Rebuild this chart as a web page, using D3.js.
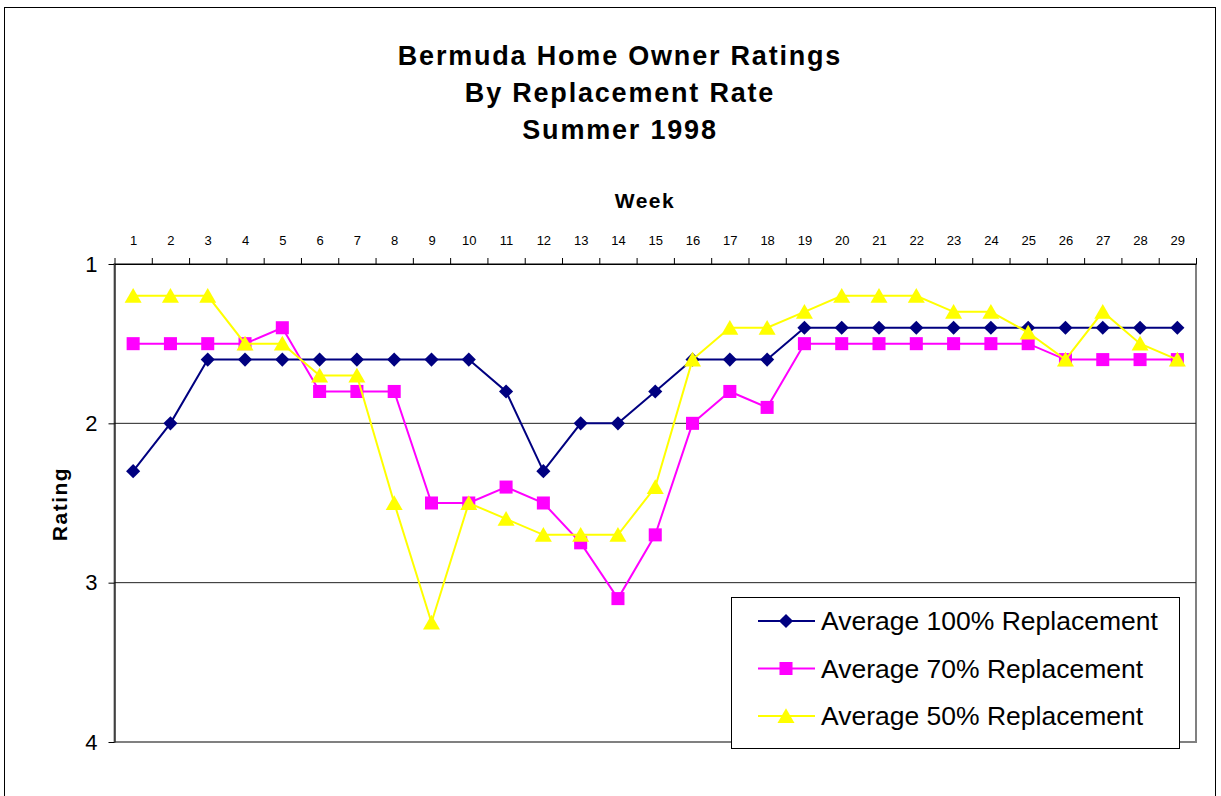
<!DOCTYPE html>
<head>
  <meta charset="utf-8">
  <script src="https://d3js.org/d3.v7.min.js"></script>
  <style>
    body { margin:0; background:#fff; }
    text { font-family: "Liberation Sans", Arial, sans-serif; }
  </style>
</head>
<body>
<script>
  // weeks 1..29
  var weeks = d3.range(1, 30);
  var seriesNames = ["Average 100% Replacement", "Average 70% Replacement", "Average 50% Replacement"];
  var avg100 = [2.3,2.0,1.6,1.6,1.6,1.6,1.6,1.6,1.6,1.6,1.8,2.3,2.0,2.0,1.8,1.6,1.6,1.6,1.4,1.4,1.4,1.4,1.4,1.4,1.4,1.4,1.4,1.4,1.4];
  var avg70  = [1.5,1.5,1.5,1.5,1.4,1.8,1.8,1.8,2.5,2.5,2.4,2.5,2.75,3.1,2.7,2.0,1.8,1.9,1.5,1.5,1.5,1.5,1.5,1.5,1.5,1.6,1.6,1.6,1.6];
  var avg50  = [1.2,1.2,1.2,1.5,1.5,1.7,1.7,2.5,3.25,2.5,2.6,2.7,2.7,2.7,2.4,1.6,1.4,1.4,1.3,1.2,1.2,1.2,1.3,1.3,1.43,1.6,1.3,1.5,1.6];
  var ratingTicks = [1, 2, 3, 4];
  var titleLines = ["Bermuda Home Owner Ratings", "By Replacement Rate", "Summer 1998"];

  var colors = ["#000080", "#ff00ff", "#ffff00"];
  var symbols = [d3.symbolSquare, d3.symbolSquare, d3.symbolTriangle];
  var symSize = [100, 170, 125];
  var symRot = [45, 0, 0];
  var symDy = [0, 0, 2];

  var width = 1221, height = 796;
  var plot = {left: 114.5, right: 1196, top: 264, bottom: 742};

  var svg = d3.select("body").append("svg")
      .attr("width", width)
      .attr("height", height);

  // outer chart border
  svg.append("rect")
      .attr("x", 4.5).attr("y", 7.5)
      .attr("width", 1211).attr("height", 820)
      .attr("fill", "none").attr("stroke", "#000").attr("stroke-width", 1);

  var x = d3.scaleLinear().domain([0.5, 29.5]).range([plot.left, plot.right]);
  var y = d3.scaleLinear().domain([1, 4]).range([plot.top, plot.bottom]);

  // plot area frame (grey)
  svg.append("rect")
      .attr("x", plot.left).attr("y", plot.top)
      .attr("width", plot.right - plot.left).attr("height", plot.bottom - plot.top)
      .attr("fill", "#fff").attr("stroke", "#808080").attr("stroke-width", 2);

  // gridlines
  svg.append("g").selectAll("line").data([2, 3]).enter().append("line")
      .attr("x1", plot.left).attr("x2", plot.right)
      .attr("y1", function(d){ return y(d); }).attr("y2", function(d){ return y(d); })
      .attr("stroke", "#222").attr("stroke-width", 1);

  // top x axis: tick marks between categories
  svg.append("g")
      .attr("transform", "translate(0," + plot.top + ")")
      .call(d3.axisTop(x).tickValues(d3.range(0.5, 30, 1)).tickFormat("").tickSize(6).tickSizeOuter(0))
      .call(function(g){ g.selectAll("line,path").attr("stroke", "#000"); });

  // week labels
  svg.append("g")
      .attr("transform", "translate(0," + plot.top + ")")
      .call(d3.axisTop(x).tickValues(weeks).tickFormat(d3.format("d")).tickSize(0).tickPadding(19))
      .call(function(g){
        g.select(".domain").remove();
        g.selectAll("text").attr("font-size", 13).attr("fill", "#000")
          .style("font-family", "'Liberation Sans', Arial, sans-serif");
      });

  // left y axis
  svg.append("g")
      .attr("transform", "translate(" + plot.left + ",0)")
      .call(d3.axisLeft(y).tickValues(ratingTicks).tickFormat(d3.format("d")).tickSize(6).tickSizeOuter(0).tickPadding(11))
      .call(function(g){
        g.selectAll("line,path").attr("stroke", "#000");
        g.selectAll("text").attr("font-size", 22).attr("fill", "#000")
          .style("font-family", "'Liberation Sans', Arial, sans-serif");
      });

  // titles
  svg.append("g").selectAll("text").data(titleLines).enter().append("text")
      .attr("x", 620)
      .attr("y", function(d, i){ return 65 + i * 37; })
      .attr("text-anchor", "middle")
      .attr("font-size", 27).attr("font-weight", "bold")
      .attr("letter-spacing", 1.8)
      .text(function(d){ return d; });

  svg.append("text")
      .attr("x", 645).attr("y", 208)
      .attr("text-anchor", "middle")
      .attr("font-size", 21).attr("font-weight", "bold")
      .attr("letter-spacing", 1.5)
      .text("Week");

  svg.append("text")
      .attr("transform", "translate(67," + ((plot.top + plot.bottom) / 2 + 1) + ") rotate(-90)")
      .attr("text-anchor", "middle")
      .attr("font-size", 21).attr("font-weight", "bold")
      .attr("letter-spacing", 1.5)
      .text("Rating");

  // series
  var allSeries = [avg100, avg70, avg50];
  var line = d3.line()
      .x(function(d, i){ return x(weeks[i]); })
      .y(function(d){ return y(d); });

  allSeries.forEach(function(vals, s){
    var g = svg.append("g");
    g.append("path")
        .attr("d", line(vals))
        .attr("fill", "none")
        .attr("stroke", colors[s])
        .attr("stroke-width", 2);
    g.selectAll("path.m").data(vals).enter().append("path")
        .attr("class", "m")
        .attr("transform", function(d, i){
          return "translate(" + x(weeks[i]) + "," + (y(d) + symDy[s]) + ") rotate(" + symRot[s] + ")";
        })
        .attr("d", d3.symbol().type(symbols[s]).size(symSize[s]))
        .attr("fill", colors[s]);
  });

  // legend
  var lg = svg.append("g");
  lg.append("rect")
      .attr("x", 731.5).attr("y", 597.5)
      .attr("width", 448).attr("height", 151)
      .attr("fill", "#fff").attr("stroke", "#000").attr("stroke-width", 1);
  seriesNames.forEach(function(name, s){
    var cy = 621 + s * 47.5;
    lg.append("line")
        .attr("x1", 758).attr("x2", 815).attr("y1", cy).attr("y2", cy)
        .attr("stroke", colors[s]).attr("stroke-width", 2);
    lg.append("path")
        .attr("transform", "translate(786," + (cy + symDy[s]) + ") rotate(" + symRot[s] + ")")
        .attr("d", d3.symbol().type(symbols[s]).size(symSize[s]))
        .attr("fill", colors[s]);
    lg.append("text")
        .attr("x", 821).attr("y", cy + 9)
        .attr("font-size", 26.5)
        .text(name);
  });
</script>
</body>
